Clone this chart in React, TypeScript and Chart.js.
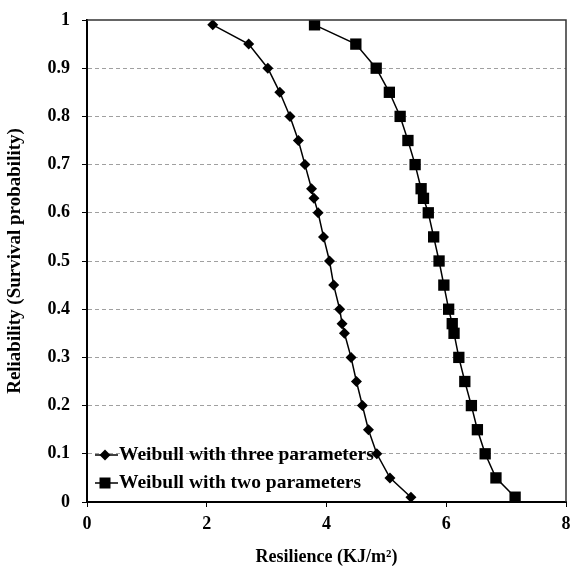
import React, { useEffect, useRef } from "react";
import { Chart, registerables } from "chart.js";

Chart.register(...registerables);

const threeParamX = [2.1, 2.7, 3.02, 3.22, 3.39, 3.53, 3.64, 3.75, 3.79, 3.86, 3.95, 4.05, 4.12, 4.22, 4.26, 4.3, 4.41, 4.5, 4.6, 4.7, 4.84, 5.06, 5.41];
const threeParamY = [0.99, 0.95, 0.9, 0.85, 0.8, 0.75, 0.7, 0.65, 0.63, 0.6, 0.55, 0.5, 0.45, 0.4, 0.37, 0.35, 0.3, 0.25, 0.2, 0.15, 0.1, 0.05, 0.01];
const twoParamX = [3.8, 4.49, 4.83, 5.05, 5.23, 5.36, 5.48, 5.58, 5.62, 5.7, 5.79, 5.88, 5.96, 6.04, 6.1, 6.13, 6.21, 6.31, 6.42, 6.52, 6.65, 6.83, 7.15];
const twoParamY = [0.99, 0.95, 0.9, 0.85, 0.8, 0.75, 0.7, 0.65, 0.63, 0.6, 0.55, 0.5, 0.45, 0.4, 0.37, 0.35, 0.3, 0.25, 0.2, 0.15, 0.1, 0.05, 0.01];
const seriesLabels = ["Weibull with three parameters", "Weibull with two parameters"];
const xTitle = "Resilience (KJ/m\u00b2)";
const yTitle = "Reliability (Survival probability)";

const FONT = "'Liberation Serif', 'Times New Roman', serif";

const legendPlugin = {
  id: "insideLegend",
  afterDraw(chart: any) {
    const { ctx, chartArea } = chart;
    ctx.save();
    // plot frame top/right
    ctx.strokeStyle = "#333";
    ctx.lineWidth = 1.5;
    ctx.beginPath();
    ctx.moveTo(chartArea.left, chartArea.top);
    ctx.lineTo(chartArea.right, chartArea.top);
    ctx.lineTo(chartArea.right, chartArea.bottom);
    ctx.stroke();

    const rows = [chartArea.bottom - 47, chartArea.bottom - 19];
    const x0 = chartArea.left + 8;
    const x1 = chartArea.left + 31;
    rows.forEach((y, i) => {
      ctx.strokeStyle = "#000";
      ctx.lineWidth = 1.5;
      ctx.beginPath();
      ctx.moveTo(x0, y);
      ctx.lineTo(x1, y);
      ctx.stroke();
      ctx.fillStyle = "#000";
      const cx = chartArea.left + 18;
      ctx.beginPath();
      if (i === 0) {
        const r = 5.5;
        ctx.moveTo(cx - r, y);
        ctx.lineTo(cx, y - r);
        ctx.lineTo(cx + r, y);
        ctx.lineTo(cx, y + r);
        ctx.closePath();
      } else {
        const s = 5.5;
        ctx.rect(cx - s, y - s, 2 * s, 2 * s);
      }
      ctx.fill();
      ctx.font = `bold 19.5px ${FONT}`;
      ctx.textBaseline = "middle";
      ctx.textAlign = "left";
      ctx.fillText(seriesLabels[i], x1 + 1, y);
    });
    ctx.restore();
  },
};

export default function App() {
  const ref = useRef<HTMLCanvasElement>(null);
  useEffect(() => {
    if (!ref.current) return;
    const toPts = (xs: number[], ys: number[]) => xs.map((x, i) => ({ x, y: ys[i] }));
    const chart = new Chart(ref.current, {
      type: "scatter",
      data: {
        datasets: [
          {
            label: seriesLabels[0],
            data: toPts(threeParamX, threeParamY),
            showLine: true,
            borderColor: "#000",
            backgroundColor: "#000",
            borderWidth: 1.5,
            pointStyle: "rectRot",
            pointRadius: 5.5,
            pointBorderWidth: 0,
            tension: 0,
          },
          {
            label: seriesLabels[1],
            data: toPts(twoParamX, twoParamY),
            showLine: true,
            borderColor: "#000",
            backgroundColor: "#000",
            borderWidth: 1.5,
            pointStyle: "rect",
            pointRadius: 8,
            pointBorderWidth: 0,
            tension: 0,
          },
        ],
      },
      options: {
        animation: false,
        responsive: true,
        maintainAspectRatio: false,
        layout: { padding: { top: 20, right: 3, left: 0, bottom: 0 } },
        plugins: { legend: { display: false }, tooltip: { enabled: false } },
        scales: {
          x: {
            type: "linear",
            min: 0,
            max: 8,
            ticks: {
              stepSize: 2,
              color: "#000",
              font: { family: FONT, size: 18, weight: "bold" },
              padding: 7,
            },
            grid: { drawOnChartArea: false, color: "#000", tickColor: "#000", tickLength: 5 },
            border: { color: "#000", width: 2 },
            title: {
              display: true,
              text: xTitle,
              color: "#000",
              font: { family: FONT, size: 18, weight: "bold" },
              padding: { top: 0, bottom: 0 },
            },
            afterFit(scale: any) {
              scale.height = 66;
              scale.paddingLeft = 0;
              scale.paddingRight = 0;
            },
          },
          y: {
            type: "linear",
            min: 0,
            max: 1,
            ticks: {
              stepSize: 0.1,
              color: "#000",
              font: { family: FONT, size: 18, weight: "bold" },
              padding: 12,
              callback: (v: any) => String(Number(Number(v).toFixed(1))),
            },
            grid: {
              color: (c: any) => (c.tick && (c.tick.value === 0 || c.tick.value === 1) ? "rgba(0,0,0,0)" : "#a0a0a0"),
              tickColor: "#000",
              tickLength: 5,
              tickBorderDash: [],
              lineWidth: 1,
            },
            border: { color: "#000", width: 2, dash: [4, 3] },
            title: {
              display: true,
              text: yTitle,
              color: "#000",
              font: { family: FONT, size: 19, weight: "bold" },
              padding: { top: 4, bottom: 0 },
            },
            afterFit(scale: any) {
              scale.width = 87;
              scale.paddingTop = 0;
              scale.paddingBottom = 0;
            },
          },
        },
      },
      plugins: [legendPlugin],
    } as any);
    return () => chart.destroy();
  }, []);
  return (
    <div style={{ position: "absolute", left: 0, top: 0, width: 574, height: 568, background: "#fff" }}>
      <canvas ref={ref} />
    </div>
  );
}
